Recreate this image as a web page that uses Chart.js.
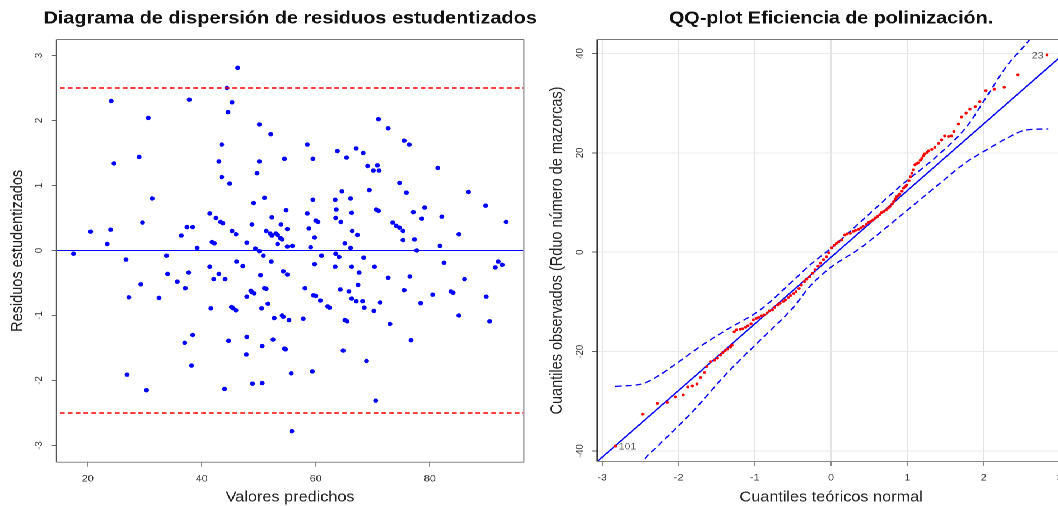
<!DOCTYPE html>
<html>
<head>
<meta charset="utf-8">
<script src="https://cdn.jsdelivr.net/npm/chart.js@4.4.1/dist/chart.umd.min.js"></script>
<style>
  html, body { margin: 0; padding: 0; background: #fff; overflow: hidden; width: 1058px; height: 506px; }
  /* the figure is laid out on a narrower stage and widened as a whole */
  #stage { position: absolute; left: 0; top: 0; width: 962px; height: 506px; transform: scaleX(1.12); transform-origin: 0 0; }
  #leftBox { position: absolute; left: 0; top: 0; width: 489px; height: 506px; }
  #rightBox { position: absolute; left: 489px; top: 0; width: 473px; height: 506px; }
</style>
</head>
<body>
<div id="stage">
  <div id="leftBox"><canvas id="resid" width="489" height="506"></canvas></div>
  <div id="rightBox"><canvas id="qq" width="473" height="506"></canvas></div>
</div>
<script>
// ---- Studentized residuals vs. fitted values ----
const predX = [
  46.3,44.4,24.1,37.8,45.3,44.6,30.6,50.1,52.1,43.5,29.0,24.6,43.0,50.1,54.5,49.7,43.5,44.9,31.3,51.0,
  49.1,54.8,41.4,29.6,42.5,43.3,43.7,48.8,52.3,53.9,20.5,24.0,37.4,38.4,36.4,45.3,46.0,51.3,52.0,52.3,
  53.0,53.3,55.0,53.8,54.1,23.4,39.2,41.8,42.2,47.9,49.4,53.3,55.0,55.9,
  50.1,17.5,26.7,33.8,50.8,46.1,47.2,41.4,52.2,54.3,55.0,34.0,37.7,43.0,42.1,44.1,50.3,35.7,29.3,37.1,
  48.6,48.8,49.2,51.0,51.3,47.9,27.2,32.5,51.6,41.6,45.2,45.5,46.0,50.5,52.7,54.1,54.3,55.3,38.4,37.0,
  44.7,47.9,52.5,50.6,54.5,54.7,47.8,38.2,55.7,26.9,50.6,48.9,44.0,30.3,55.8,
  71.0,72.7,75.5,76.4,58.5,59.5,63.8,65.4,67.1,68.3,69.1,70.8,70.1,71.1,81.4,74.7,69.4,75.9,64.6,86.8,
  59.5,63.4,66.1,89.8,58.5,63.6,66.3,70.6,71.0,79.1,77.1,82.1,78.6,63.5,60.0,60.4,64.4,73.5,74.1,74.7,
  75.3,93.4,58.8,66.4,67.3,59.8,85.1,65.1,75.3,77.3,66.1,59.1,81.8,77.7,
  61.0,59.8,63.5,64.1,63.4,66.3,68.4,70.3,67.6,82.5,92.0,91.5,92.7,72.7,76.5,86.1,58.1,64.3,65.8,67.4,
  75.5,80.5,83.7,84.1,59.6,60.0,60.8,62.1,62.4,66.3,67.1,68.2,68.5,71.3,70.2,78.4,89.9,57.8,65.1,65.5,
  73.0,85.1,90.5,76.7,64.8,68.9,59.4,70.5
];
const residY = [
  2.81,2.50,2.30,2.32,2.28,2.13,2.04,1.94,1.79,1.63,1.44,1.34,1.37,1.37,1.41,1.19,1.13,1.03,0.80,0.81,
  0.73,0.62,0.57,0.43,0.50,0.44,0.42,0.40,0.51,0.40,0.29,0.32,0.36,0.36,0.23,0.30,0.25,0.30,0.26,0.23,
  0.26,0.24,0.33,0.19,0.17,0.10,0.04,0.13,0.11,0.12,0.03,0.10,0.06,0.07,
  -0.01,-0.05,-0.14,-0.08,-0.08,-0.17,-0.24,-0.25,-0.17,-0.32,-0.37,-0.36,-0.34,-0.36,-0.44,-0.44,-0.38,-0.48,-0.52,-0.58,
  -0.62,-0.64,-0.66,-0.58,-0.59,-0.71,-0.72,-0.73,-0.82,-0.89,-0.87,-0.89,-0.92,-0.89,-1.04,-1.00,-1.02,-1.07,-1.30,-1.42,
  -1.39,-1.33,-1.37,-1.47,-1.51,-1.52,-1.60,-1.77,-1.89,-1.91,-2.04,-2.05,-2.13,-2.15,-2.78,
  2.02,1.88,1.69,1.63,1.63,1.41,1.53,1.43,1.57,1.50,1.30,1.31,1.23,1.23,1.27,1.04,0.93,0.89,0.91,0.90,
  0.78,0.78,0.80,0.69,0.57,0.63,0.58,0.63,0.61,0.66,0.59,0.52,0.49,0.50,0.46,0.44,0.44,0.43,0.38,0.35,
  0.30,0.44,0.34,0.30,0.24,0.20,0.25,0.11,0.16,0.17,0.04,0.05,0.07,0.00,
  -0.08,-0.21,-0.05,-0.10,-0.25,-0.25,-0.11,-0.25,-0.34,-0.19,-0.17,-0.26,-0.22,-0.42,-0.40,-0.44,-0.58,-0.60,-0.63,-0.53,
  -0.61,-0.68,-0.63,-0.65,-0.69,-0.70,-0.77,-0.86,-0.88,-0.74,-0.78,-0.78,-0.88,-0.80,-0.93,-0.81,-0.71,-1.05,-1.07,-1.09,
  -1.13,-1.00,-1.09,-1.38,-1.54,-1.70,-1.86,-2.31
];
const residXTicks = [20, 40, 60, 80];
const residYTicks = [-3, -2, -1, 0, 1, 2, 3];
const residRangeX = [14.6, 96.4];
const residRangeY = [-3.2494, 3.2386];
const zeroLevel = 0;
const residLimits = [2.5, -2.5];

// ---- Normal QQ plot of the residuals ----
const qqTheo = [
  -2.83,-2.47,-2.28,-2.15,-2.04,-1.94,-1.88,-1.82,-1.76,-1.71,-1.66,-1.63,-1.58,-1.53,-1.49,-1.45,-1.42,-1.39,-1.36,-1.32,
  -1.30,-1.27,-1.24,-1.19,-1.16,-1.12,-1.09,-1.05,-1.02,-0.98,-0.95,-0.91,-0.88,-0.84,-0.81,-0.77,-0.74,-0.70,-0.67,-0.63,
  -0.60,-0.56,-0.53,-0.49,-0.46,-0.42,-0.39,-0.35,-0.32,-0.28,-0.24,-0.21,-0.17,-0.14,-0.10,-0.06,-0.03,0.01,0.04,0.07,
  0.10,0.14,0.18,0.21,0.25,0.29,0.32,0.36,0.39,0.42,0.46,0.49,0.52,0.55,0.58,0.61,0.64,0.66,0.69,0.72,
  0.75,0.77,0.80,0.82,0.84,0.86,0.88,0.90,0.93,0.95,0.97,0.99,1.02,1.04,1.06,1.08,1.10,1.12,1.14,1.17,
  1.19,1.21,1.23,1.26,1.28,1.32,1.36,1.41,1.45,1.49,1.54,1.58,1.61,1.67,1.71,1.77,1.82,1.89,1.95,2.03,
  2.14,2.27,2.45,2.83
];
const qqObs = [
  -39.0,-32.6,-30.4,-30.2,-29.1,-28.7,-27.1,-26.9,-26.5,-25.2,-24.2,-23.0,-22.0,-21.7,-21.3,-20.7,-20.2,-19.8,-19.5,-19.1,
  -18.7,-16.0,-15.6,-15.5,-15.4,-15.1,-14.8,-14.4,-13.6,-13.3,-13.1,-12.8,-12.6,-12.2,-11.8,-11.6,-11.1,-10.6,-10.3,-9.9,
  -9.6,-9.1,-8.7,-8.3,-7.9,-7.3,-6.6,-5.9,-5.4,-4.9,-4.2,-3.5,-2.8,-2.2,-1.5,-0.9,-0.1,0.9,1.4,1.8,
  2.1,2.5,3.5,3.7,3.8,4.2,4.4,4.6,4.9,5.2,5.6,6.0,6.2,6.5,6.9,7.2,7.6,8.0,8.2,8.5,
  8.9,9.2,9.7,10.2,10.7,11.2,11.4,11.7,12.3,12.9,13.2,13.5,14.4,15.2,15.9,16.6,17.6,17.8,18.0,18.5,
  18.9,19.4,19.8,20.1,20.4,20.7,21.1,21.9,22.6,23.4,23.3,23.4,24.3,25.8,27.2,28.0,28.8,29.3,30.3,32.5,
  32.8,33.2,35.7,39.7
];
const qqPointNames = { 0: '101', 123: '23' };
const refLineX = [-3.20, 3.20];
const refLineY = [-43.9, 41.9];
const envUpperX = [-2.83,-2.46,-2.28,-2.02,-1.72,-1.37,-0.93,-0.49,-0.28,0.00,0.45,0.90,1.43,1.78,2.04,2.30,2.60,2.83];
const envUpperY = [-27.0,-26.4,-25.0,-22.3,-19.0,-15.6,-11.6,-5.6,-2.6,0.8,7.0,13.2,19.9,25.3,31.3,37.4,42.7,47.5];
const envLowerX = [-2.60,-2.44,-2.24,-1.80,-1.37,-0.93,-0.49,-0.28,0.00,0.38,0.90,1.43,1.78,2.04,2.30,2.56,2.85];
const envLowerY = [-44.5,-41.5,-38.5,-31.8,-24.4,-17.7,-11.0,-6.9,-3.0,0.8,7.2,13.9,18.2,20.6,22.9,24.6,24.8];
const qqXTicks = [-3, -2, -1, 0, 1, 2, 3];
const qqYTicks = [-40, -20, 0, 20, 40];
const qqRangeX = [-3.06, 3.06];
const qqRangeY = [-42.0, 42.7];

// ---------------------------------------------------------------
const FONT = "'Liberation Sans', Arial, Helvetica, sans-serif";
Chart.defaults.font.family = FONT;
Chart.defaults.color = '#333';
Chart.defaults.animation = false;

const toPoints = (xs, ys) => xs.map((x, i) => ({ x, y: ys[i] }));
const fixedTicks = list => scale => { scale.ticks = list.map(v => ({ value: v })); };

// main title, centred over the plotting region (may be wider than it)
const plotTitlePlugin = {
  id: 'plotTitle',
  afterDraw(chart, args, opts) {
    if (!opts.text) return;
    const { ctx, chartArea: a } = chart;
    ctx.save();
    ctx.font = 'bold ' + opts.size + 'px ' + FONT;
    ctx.fillStyle = '#111';
    ctx.textAlign = 'center';
    ctx.textBaseline = 'middle';
    ctx.fillText(opts.text, (a.left + a.right) / 2, opts.y);
    ctx.restore();
  }
};

// box around the plotting region
const framePlugin = {
  id: 'frame',
  afterDraw(chart, args, opts) {
    const { ctx, chartArea: a } = chart;
    const L = a.left - 0.5, R = a.right + 0.5, T = a.top - 0.5, B = a.bottom + 0.5;
    ctx.save();
    ctx.lineWidth = 1;
    (opts.sides || []).forEach(s => {
      ctx.strokeStyle = s.color;
      ctx.beginPath();
      if (s.side === 'left') { ctx.moveTo(L, T); ctx.lineTo(L, B); }
      if (s.side === 'right') { ctx.moveTo(R, T); ctx.lineTo(R, B); }
      if (s.side === 'top') { ctx.moveTo(L, T); ctx.lineTo(R, T); }
      if (s.side === 'bottom') { ctx.moveTo(L, B); ctx.lineTo(R, B); }
      ctx.stroke();
    });
    ctx.restore();
  }
};

// identifiers of the extreme observations in the QQ plot
const pointNamePlugin = {
  id: 'pointNames',
  afterDatasetsDraw(chart, args, opts) {
    if (!opts.names) return;
    const meta = chart.getDatasetMeta(opts.datasetIndex);
    const { ctx } = chart;
    ctx.save();
    ctx.font = '9.5px ' + FONT;
    ctx.fillStyle = '#555';
    ctx.textBaseline = 'middle';
    Object.entries(opts.names).forEach(([idx, name]) => {
      const el = meta.data[+idx];
      if (!el) return;
      const left = el.x < (chart.chartArea.left + chart.chartArea.right) / 2;
      ctx.textAlign = left ? 'left' : 'right';
      ctx.fillText(name, el.x + (left ? 3 : -3), el.y + 1);
    });
    ctx.restore();
  }
};

const tickFont = { size: 9.5 };
const axisTitleFont = { size: 14.5 };

// ---- left chart ----
new Chart(document.getElementById('resid'), {
  type: 'scatter',
  data: {
    datasets: [
      { type: 'line', data: toPoints([0, 200], [zeroLevel, zeroLevel]), borderColor: '#0000ff', borderWidth: 1, pointRadius: 0 },
      { type: 'line', data: toPoints([0, 200], [residLimits[0], residLimits[0]]), borderColor: '#ff0000', borderWidth: 1.4, borderDash: [4.2, 2.8], pointRadius: 0 },
      { type: 'line', data: toPoints([0, 200], [residLimits[1], residLimits[1]]), borderColor: '#ff0000', borderWidth: 1.4, borderDash: [4.2, 2.8], pointRadius: 0 },
      { data: toPoints(predX, residY), backgroundColor: '#0000ff', borderWidth: 0, pointRadius: 2.2, pointHoverRadius: 2.2 }
    ]
  },
  options: {
    responsive: false,
    devicePixelRatio: 2,
    layout: { padding: { left: 0, top: 40, right: 21.8, bottom: 0 } },
    plugins: {
      legend: { display: false }, tooltip: { enabled: false }, title: { display: false },
      plotTitle: { text: 'Diagrama de dispersión de residuos estudentizados', size: 17.8, y: 18.6 },
      frame: { sides: [
        { side: 'left', color: '#555' }, { side: 'right', color: '#777' },
        { side: 'top', color: '#777' }, { side: 'bottom', color: '#888' }
      ] }
    },
    scales: {
      x: {
        type: 'linear', min: residRangeX[0], max: residRangeX[1],
        afterBuildTicks: fixedTicks(residXTicks),
        afterFit: s => { s.height = 44.3; s.paddingLeft = 0; s.paddingRight = 0; },
        grid: { drawOnChartArea: false, tickLength: 5, tickColor: '#888' },
        border: { display: false },
        ticks: { padding: 6.5, font: tickFont, color: '#333', autoSkip: false, maxRotation: 0 },
        title: { display: true, text: 'Valores predichos', font: axisTitleFont, color: '#222', padding: { top: 0, bottom: 0 } }
      },
      y: {
        type: 'linear', min: residRangeY[0], max: residRangeY[1],
        afterBuildTicks: fixedTicks(residYTicks),
        afterFit: s => { s.width = 50.9; s.paddingTop = 0; s.paddingBottom = 0; },
        grid: { drawOnChartArea: false, tickLength: 5, tickColor: '#666' },
        border: { display: false },
        ticks: { padding: 6.8, font: tickFont, color: '#333', autoSkip: false, minRotation: 90, maxRotation: 90, crossAlign: 'center' },
        title: { display: true, text: 'Residuos estudentizados', font: axisTitleFont, color: '#222', padding: { top: 7.4, bottom: 0 } }
      }
    }
  },
  plugins: [framePlugin, plotTitlePlugin]
});

// ---- right chart ----
new Chart(document.getElementById('qq'), {
  type: 'scatter',
  data: {
    datasets: [
      { data: toPoints(qqTheo, qqObs), backgroundColor: '#ff0000', borderWidth: 0, pointRadius: 1.4, pointHoverRadius: 1.4 },
      { type: 'line', data: toPoints(refLineX, refLineY), borderColor: '#0000ff', borderWidth: 1.3, pointRadius: 0 },
      { type: 'line', data: toPoints(envUpperX, envUpperY), borderColor: '#0000ff', borderWidth: 1.3, borderDash: [5.5, 3.5], pointRadius: 0, cubicInterpolationMode: 'monotone' },
      { type: 'line', data: toPoints(envLowerX, envLowerY), borderColor: '#0000ff', borderWidth: 1.3, borderDash: [5.5, 3.5], pointRadius: 0, cubicInterpolationMode: 'monotone' }
    ]
  },
  options: {
    responsive: false,
    devicePixelRatio: 2,
    layout: { padding: { left: 0, top: 40, right: 11.6, bottom: 0 } },
    plugins: {
      legend: { display: false }, tooltip: { enabled: false }, title: { display: false },
      plotTitle: { text: 'QQ-plot Eficiencia de polinización.', size: 17.6, y: 18.6 },
      frame: { sides: [
        { side: 'left', color: '#333' }, { side: 'top', color: '#777' }, { side: 'bottom', color: '#888' }
      ] },
      pointNames: { datasetIndex: 0, names: qqPointNames }
    },
    scales: {
      x: {
        type: 'linear', min: qqRangeX[0], max: qqRangeX[1],
        afterBuildTicks: fixedTicks(qqXTicks),
        afterFit: s => { s.height = 45; s.paddingLeft = 0; s.paddingRight = 0; },
        grid: { drawOnChartArea: true, color: '#e3e3e3', tickLength: 5, tickColor: '#888' },
        border: { display: false },
        ticks: { padding: 6.2, font: tickFont, color: '#333', autoSkip: false, maxRotation: 0 },
        title: { display: true, text: 'Cuantiles teóricos normal', font: axisTitleFont, color: '#222', padding: { top: 0, bottom: 0 } }
      },
      y: {
        type: 'linear', min: qqRangeY[0], max: qqRangeY[1],
        afterBuildTicks: fixedTicks(qqYTicks),
        afterFit: s => { s.width = 44.7; s.paddingTop = 0; s.paddingBottom = 0; },
        grid: { drawOnChartArea: true, color: '#ebebeb', tickLength: 5, tickColor: '#666' },
        border: { display: false },
        ticks: { padding: 4, font: tickFont, color: '#333', autoSkip: false, minRotation: 90, maxRotation: 90, crossAlign: 'center' },
        title: { display: true, text: 'Cuantiles observados (Rduo número de mazorcas)', font: axisTitleFont, color: '#222', padding: { top: 0, bottom: 0 } }
      }
    }
  },
  plugins: [framePlugin, pointNamePlugin, plotTitlePlugin]
});
</script>
</body>
</html>
